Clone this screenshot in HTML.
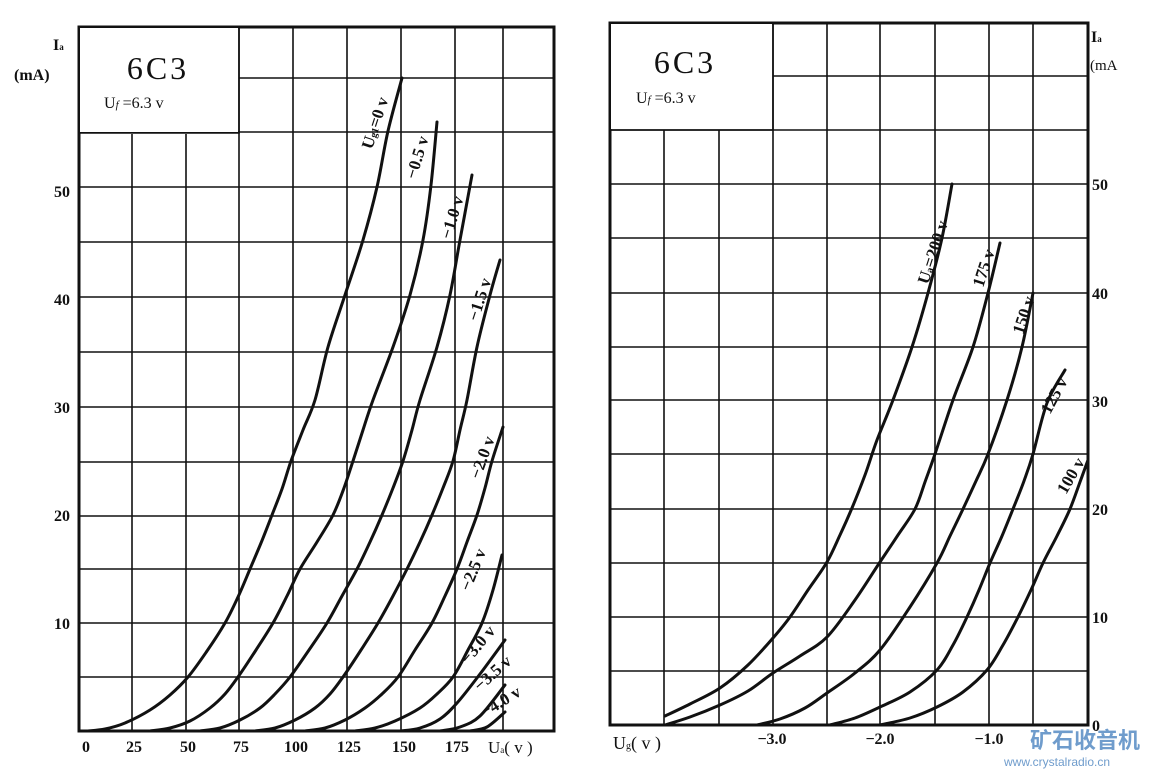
<!DOCTYPE html>
<html><head><meta charset="utf-8"><style>
html,body{margin:0;padding:0;background:#fff}
svg{display:block}
text{font-family:"Liberation Serif",serif;fill:#111}
</style></head><body>
<svg id="s" width="1154" height="772" viewBox="0 0 1154 772" xmlns="http://www.w3.org/2000/svg">
<g stroke="#111" stroke-width="1.6" fill="none">
<path d="M79 677H554M79 623H554M79 569H554M79 516H554M79 462H554M79 407H554M79 352H554M79 297H554M79 242H554M79 187H554M79 132H554M239 78H554"/>
<path d="M132 134V731M186 134V731M239 27V731M293 27V731M347 27V731M401 27V731M455 27V731M503 27V731"/>
<path d="M610 671H1088M610 617H1088M610 563H1088M610 509H1088M610 454H1088M610 400H1088M610 347H1088M610 293H1088M610 238H1088M610 184H1088M610 130H1088M773 76H1088"/>
<path d="M664 130V725M719 130V725M773 23V725M827 23V725M880 23V725M935 23V725M989 23V725M1033 23V725"/>
</g>
<g stroke="#111" stroke-width="3" fill="none">
<rect x="79" y="27" width="475" height="704"/>
<rect x="610" y="23" width="478" height="702"/>
</g>
<rect x="80" y="28" width="158" height="104" fill="#fff"/>
<path d="M79 133H239V27" stroke="#111" stroke-width="1.6" fill="none"/>
<rect x="611" y="24" width="161" height="105" fill="#fff"/>
<path d="M610 130H773V23" stroke="#111" stroke-width="1.6" fill="none"/>

<g class="c" stroke="#111" stroke-width="3" fill="none" stroke-linejoin="round" stroke-linecap="round">
<polyline points="88,731 105,729 125,723 150,710 170,695 188,677 207,651 225,623 238,597 250,569 261,543 272,515 282,489 291,461 303,430 315,400 328,347 345,295 363,240 377,187 388,131 402,78"/>
<polyline points="150,731 170,728 190,721 210,708 225,694 238,677 256,650 273,623 287,596 300,569 317,542 333,515 344,488 353,461 363,430 373,400 393,347 410,295 423,240 431,185 437,122"/>
<polyline points="200,731 220,728 240,720 260,708 275,694 290,677 309,650 327,623 342,596 357,569 370,542 382,515 393,488 403,461 412,430 420,400 437,347 450,295 460,240 472,175"/>
<polyline points="255,731 275,728 295,720 315,708 330,694 343,677 361,650 378,623 393,596 407,569 420,542 432,515 443,488 453,461 460,430 467,400 477,347 490,295 500,260"/>
<polyline points="305,731 325,728 345,720 365,708 382,694 398,677 415,650 432,623 445,596 457,569 467,542 477,515 485,488 492,461 503,427"/>
<polyline points="355,731 375,728 395,721 420,708 437,694 453,677 468,650 482,623 493,590 502,555"/>
<polyline points="400,731 420,728 440,719 457,703 480,674 505,640"/>
<polyline points="440,731 460,727 480,716 505,685"/>
<polyline points="470,731 487,727 505,712"/>
</g>
<g class="c" stroke="#111" stroke-width="3" fill="none" stroke-linejoin="round" stroke-linecap="round">
<polyline points="665,716 690,704 720,688 748,665 773,638 790,617 808,590 827,562 840,535 852,508 865,475 877,440 893,400 912,347 928,293 942,238 952,184"/>
<polyline points="665,725 690,717 720,705 748,691 773,673 800,656 827,637 855,600 880,562 898,535 915,509 925,482 935,454 953,400 973,347 988,293 1000,243"/>
<polyline points="757,725 780,719 805,708 827,693 855,673 880,650 910,607 937,563 950,536 963,509 976,481 988,454 1007,400 1022,347 1033,293"/>
<polyline points="830,725 855,718 880,707 910,692 937,670 953,645 967,617 979,590 990,563 1002,536 1013,509 1024,481 1033,454 1047,403 1065,370"/>
<polyline points="880,725 910,718 937,707 963,692 987,670 1003,645 1018,617 1031,590 1043,563 1057,536 1070,509 1080,482 1088,460"/>
</g>

<text x="158" y="79" font-size="32" text-anchor="middle" letter-spacing="3">6C3</text>
<text x="104" y="108" font-size="16">U<tspan font-size="11" font-style="italic">f</tspan> =6.3 v</text>
<text x="53" y="50" font-size="16" font-weight="bold">I<tspan font-size="9">a</tspan></text>
<text x="14" y="80" font-size="16" font-weight="bold">(mA)</text>
<g font-size="16" font-weight="bold" text-anchor="end" font-family="Liberation Sans">
<text x="70" y="197">50</text><text x="70" y="305">40</text><text x="70" y="413">30</text><text x="70" y="521">20</text><text x="70" y="629">10</text>
</g>
<g font-size="16" font-weight="bold" text-anchor="middle">
<text x="86" y="752">0</text><text x="134" y="752">25</text><text x="188" y="752">50</text><text x="241" y="752">75</text><text x="296" y="752">100</text><text x="349" y="752">125</text><text x="404" y="752">150</text><text x="457" y="752">175</text>
</g>
<text x="488" y="753" font-size="17">U<tspan font-size="9">a</tspan>( v )</text>
<g font-size="17" font-weight="600">
<text transform="translate(372,150) rotate(-72)">U<tspan font-size="10">g1</tspan>=0 v</text>
<text transform="translate(416,180) rotate(-73)">−0.5 v</text>
<text transform="translate(451,240) rotate(-73)">−1.0 v</text>
<text transform="translate(478,322) rotate(-72)">−1.5 v</text>
<text transform="translate(480,480) rotate(-70)">−2.0 v</text>
<text transform="translate(470,592) rotate(-68)">−2.5 v</text>
<text transform="translate(468,665) rotate(-50)">−3.0 v</text>
<text transform="translate(480,692) rotate(-42)">−3.5 v</text>
<text transform="translate(485,718) rotate(-32)">−4.0 v</text>
</g>

<text x="685" y="73" font-size="32" text-anchor="middle" letter-spacing="3">6C3</text>
<text x="636" y="103" font-size="16">U<tspan font-size="11" font-style="italic">f</tspan> =6.3 v</text>
<text x="1091" y="42" font-size="16" font-weight="bold">I<tspan font-size="9">a</tspan></text>
<text x="1090" y="70" font-size="15">(mA</text>
<g font-size="16" font-weight="bold" font-family="Liberation Sans">
<text x="1092" y="190">50</text><text x="1092" y="299">40</text><text x="1092" y="407">30</text><text x="1092" y="515">20</text><text x="1092" y="623">10</text><text x="1092" y="731">0</text>
</g>
<text x="613" y="749" font-size="18">U<tspan font-size="10">g</tspan>( v )</text>
<g font-size="16" font-weight="bold" text-anchor="middle">
<text x="772" y="744">−3.0</text><text x="880" y="744">−2.0</text><text x="989" y="744">−1.0</text>
</g>
<g font-size="17" font-weight="600">
<text transform="translate(928,285) rotate(-72)">U<tspan font-size="10">a</tspan>=200 v</text>
<text transform="translate(983,288) rotate(-72)">175 v</text>
<text transform="translate(1023,335) rotate(-72)">150 v</text>
<text transform="translate(1050,415) rotate(-62)">125 v</text>
<text transform="translate(1066,495) rotate(-60)">100 v</text>
</g>
<text x="1030" y="748" font-size="22" font-weight="bold" style="fill:#6f9ccc;font-family:'Liberation Sans','Noto Sans CJK SC',sans-serif">矿石收音机</text>
<text x="1004" y="766" font-size="12" style="fill:#6f9ccc;font-family:'Liberation Sans',sans-serif">www.crystalradio.cn</text>
</svg>
<script>
(function(){
var ns="http://www.w3.org/2000/svg";
var pls=document.querySelectorAll("g.c polyline");
for(var i=0;i<pls.length;i++){
 var pl=pls[i];var pts=pl.getAttribute("points").trim().split(/\s+/).map(function(s){return s.split(",").map(Number);});
 var d="M"+pts[0][0]+" "+pts[0][1];
 for(var j=0;j<pts.length-1;j++){
  var p0=pts[j-1]||pts[j],p1=pts[j],p2=pts[j+1],p3=pts[j+2]||p2;
  var c1x=p1[0]+(p2[0]-p0[0])/6,c1y=p1[1]+(p2[1]-p0[1])/6;
  var c2x=p2[0]-(p3[0]-p1[0])/6,c2y=p2[1]-(p3[1]-p1[1])/6;
  d+=" C"+c1x.toFixed(1)+" "+c1y.toFixed(1)+" "+c2x.toFixed(1)+" "+c2y.toFixed(1)+" "+p2[0]+" "+p2[1];
 }
 var p=document.createElementNS(ns,"path");p.setAttribute("d",d);
 pl.parentNode.replaceChild(p,pl);
}
})();
</script>
</body></html>
